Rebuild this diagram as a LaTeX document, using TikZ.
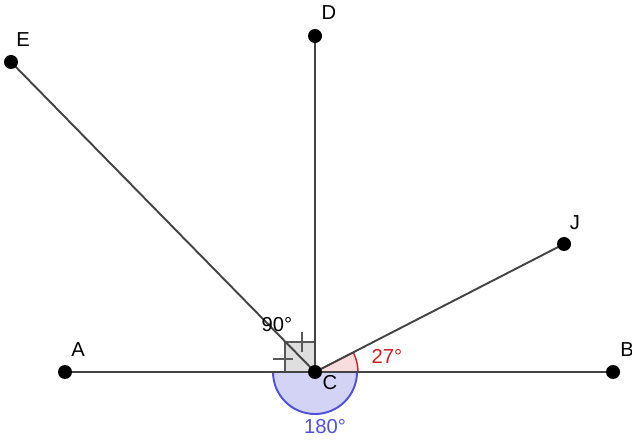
\documentclass[tikz,border=0pt]{standalone}
\usepackage{fontspec}
\setmainfont{Liberation Sans}
\usetikzlibrary{arrows.meta,calc}
\definecolor{segline}{RGB}{68,68,68}
\definecolor{angred}{RGB}{204,30,30}
\definecolor{angblue}{RGB}{80,80,220}
\definecolor{rightgray}{RGB}{90,90,90}

\begin{document}
\begin{tikzpicture}[x=0.02cm,y=0.02cm,font=\fontsize{11.5}{14}\selectfont,
  seg/.style={segline,line width=1.1pt},
  pt/.style={black}]
\useasboundingbox (0,0) rectangle (632,443);
\coordinate (C) at (315,71);
\coordinate (A) at (65,71);
\coordinate (B) at (613,71);
\coordinate (D) at (315,407);
\coordinate (E) at (11,381);
\coordinate (J) at (564,199);
% angle fills
\filldraw[angblue,fill=angblue!25,line width=1.1pt] ($(C)+(-42,0)$) arc[start angle=180,end angle=360,radius=42] -- cycle;
\filldraw[angred,fill=angred!15,line width=0.8pt] (C) -- ($(C)+(43,0)$) arc[start angle=0,end angle=27,radius=43] -- cycle;
\filldraw[rightgray,fill=gray!25,line width=0.8pt] (C) rectangle ($(C)+(-30,30)$);
\draw[rightgray,line width=0.8pt] ($(C)+(-13,20)$) -- ++(0,20);
\draw[rightgray,line width=0.8pt] ($(C)+(-42,13)$) -- ++(20,0);
% segments
\draw[seg] (A) -- (B);
\draw[seg] (C) -- (D);
\draw[seg] (C) -- (E);
\draw[seg] (C) -- (J);
\foreach \p in {A,B,C,D,E,J}
  \fill[pt] (\p) circle (7);
% labels
\node (lA) at (78,93) {A};
\node (lB) at (627,93) {B};
\node (lC) at (330,60) {C};
\node (lD) at (329,430) {D};
\node (lE) at (23,403) {E};
\node (lJ) at (575,220) {J};
\node (l90) at (277,118) {90°};
\node[angred] (l27) at (387,87) {27°};
\node[angblue] (l180) at (325,16) {180°};
\end{tikzpicture}
\end{document}
